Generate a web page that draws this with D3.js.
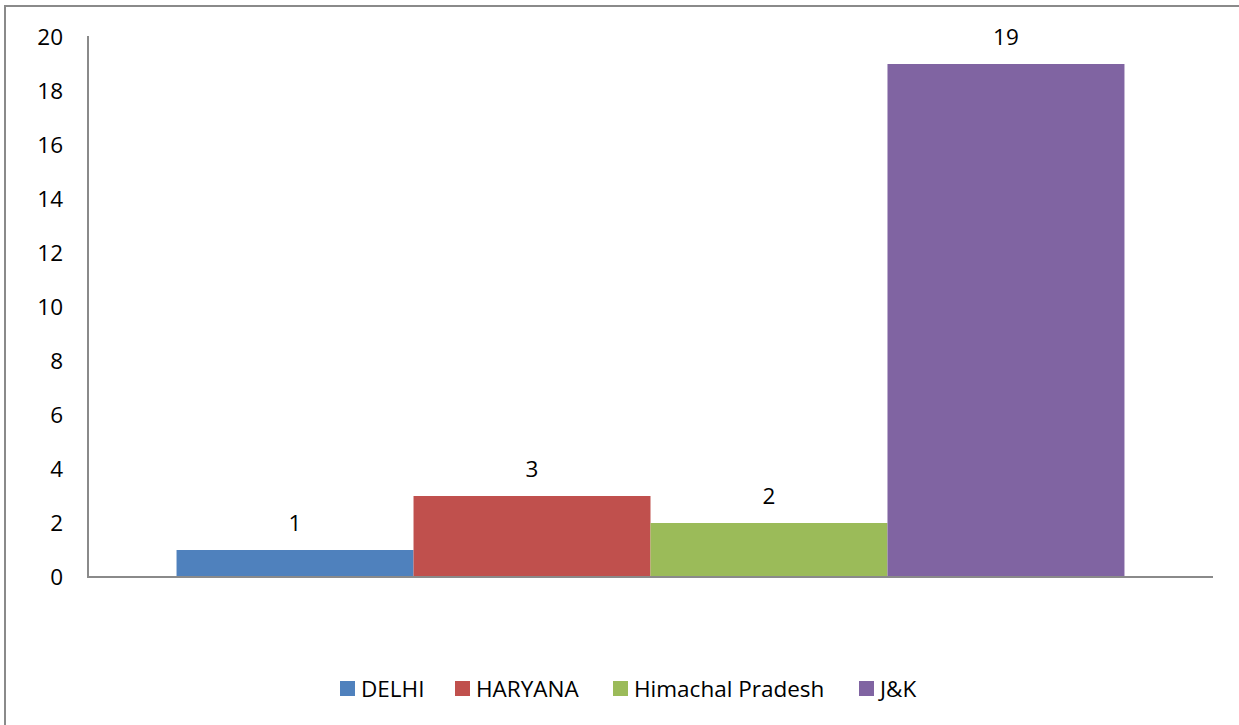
<!DOCTYPE html>
<html>
<head>
<meta charset="utf-8">
<script src="https://cdn.jsdelivr.net/npm/d3@7"></script>
<style>
  body { margin: 0; background: #fff; }
  text { font-family: "Open Sans", sans-serif; fill: #000; }
</style>
</head>
<body>
<div id="chart-area"></div>
<script>
var states = ['DELHI', 'HARYANA', 'Himachal Pradesh', 'J&K'];
var counts = [1, 3, 2, 19];
var colors = ['#4F81BD', '#C0504D', '#9BBB59', '#8064A2'];
var yTicks = [0, 2, 4, 6, 8, 10, 12, 14, 16, 18, 20];

var W = 1239, H = 725;
var plot = { left: 88, right: 1213, top: 37, bottom: 577 };
var fontSize = '22.5px';

var svg = d3.select('#chart-area').append('svg')
    .attr('width', W)
    .attr('height', H);

// outer frame, right and bottom sides fall off the picture
svg.append('rect')
    .attr('x', 5).attr('y', 6)
    .attr('width', W + 20).attr('height', H + 20)
    .attr('fill', 'none')
    .attr('stroke', '#8a8a8a')
    .attr('stroke-width', 2);

var y = d3.scaleLinear().domain([0, 20]).range([plot.bottom, plot.top]);

// one category group holding the four series
var x0 = d3.scaleBand().domain(['all'])
    .range([plot.left, plot.right])
    .paddingInner(0).paddingOuter(0.0934);
var x1 = d3.scaleBand().domain(states)
    .range([0, x0.bandwidth()]).padding(0);

var yAxis = d3.axisLeft(y).tickValues(yTicks).tickSize(0).tickPadding(25);
var yAxisGroup = svg.append('g')
    .attr('transform', `translate(${plot.left}, 0)`)
    .call(yAxis);
yAxisGroup.select('.domain').attr('stroke', '#8a8a8a').attr('stroke-width', 2)
    .attr('d', `M0,${plot.top - 1}V${plot.bottom}`);
yAxisGroup.selectAll('text')
    .attr('font-size', fontSize)
    .attr('font-family', '"Open Sans", sans-serif')
    .attr('fill', '#000');

var bars = svg.append('g').attr('transform', `translate(${x0('all')}, 0)`);

bars.selectAll('rect')
    .data(states)
    .enter().append('rect')
    .attr('x', d => x1(d))
    .attr('y', (d, i) => y(counts[i]))
    .attr('width', x1.bandwidth())
    .attr('height', (d, i) => y(0) - y(counts[i]))
    .attr('fill', (d, i) => colors[i]);

bars.selectAll('text.val')
    .data(states)
    .enter().append('text')
    .attr('class', 'val')
    .attr('x', d => x1(d) + x1.bandwidth() / 2)
    .attr('y', (d, i) => y(counts[i]) - 19)
    .attr('text-anchor', 'middle')
    .attr('font-size', fontSize)
    .text((d, i) => counts[i]);

// x axis line
var xAxis = d3.axisBottom(x0).tickSize(0).tickFormat('');
var xAxisGroup = svg.append('g')
    .attr('transform', `translate(0, ${plot.bottom})`)
    .call(xAxis);
xAxisGroup.select('.domain').attr('stroke', '#8a8a8a').attr('stroke-width', 2)
    .attr('d', `M${plot.left - 1},0H${plot.right}`);

// legend
var legendX = [340, 455, 613, 859];
var legend = svg.append('g').attr('transform', 'translate(0, 681)');
var items = legend.selectAll('g')
    .data(states)
    .enter().append('g')
    .attr('transform', (d, i) => `translate(${legendX[i]}, 0)`);
items.append('rect')
    .attr('width', 15).attr('height', 15)
    .attr('fill', (d, i) => colors[i]);
items.append('text')
    .attr('x', 21).attr('y', 8)
    .attr('dy', '0.35em')
    .attr('font-size', fontSize)
    .text(d => d);
</script>
</body>
</html>
